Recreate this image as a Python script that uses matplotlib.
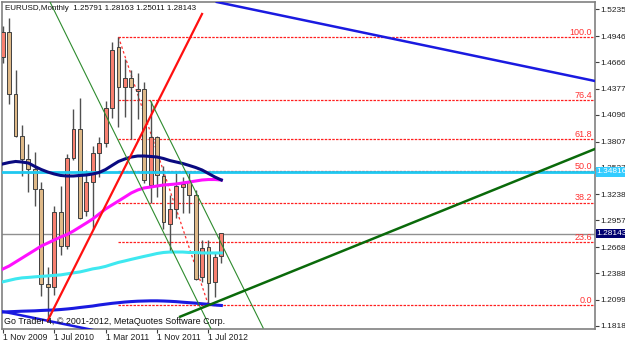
import matplotlib
matplotlib.use('Agg')
import matplotlib.pyplot as plt
import matplotlib.transforms as mtransforms
import numpy as np

# monthly bars, index 0 = Nov 2009 ... 34 = Sep 2012
opens = [1.4719, 1.4995, 1.4320, 1.3867, 1.3624, 1.3510, 1.3297, 1.2270, 1.2236, 1.3048,
         1.2686, 1.3630, 1.3945, 1.3060, 1.3375, 1.3685, 1.3793, 1.4171, 1.4833, 1.4401,
         1.4492, 1.4355, 1.4376, 1.3340, 1.3861, 1.3430, 1.2926, 1.3081, 1.3322, 1.3376,
         1.3232, 1.2350, 1.2667, 1.2295, 1.25791]
highs = [1.5062, 1.5145, 1.4579, 1.3987, 1.3779, 1.3692, 1.3373, 1.2458, 1.3117, 1.3334,
         1.3678, 1.4158, 1.4283, 1.3500, 1.3760, 1.3860, 1.4247, 1.4887, 1.4939, 1.4698,
         1.4578, 1.4549, 1.4450, 1.4247, 1.3870, 1.3550, 1.3230, 1.3486, 1.3430, 1.3480,
         1.3286, 1.2746, 1.2746, 1.2620, 1.28163]
lows = [1.4654, 1.4218, 1.3857, 1.3434, 1.3266, 1.3114, 1.2143, 1.1876, 1.2151, 1.2588,
        1.2644, 1.3605, 1.2968, 1.3010, 1.2870, 1.3430, 1.3745, 1.4060, 1.3970, 1.4077,
        1.3837, 1.4050, 1.3360, 1.3146, 1.3210, 1.2860, 1.2620, 1.2980, 1.3037, 1.3037,
        1.2314, 1.2294, 1.2042, 1.2134, 1.25011]
closes = [1.4995, 1.4320, 1.3867, 1.3624, 1.3510, 1.3297, 1.2270, 1.2236, 1.3048, 1.2686,
          1.3630, 1.3945, 1.2986, 1.3375, 1.3685, 1.3793, 1.4171, 1.4797, 1.4401, 1.4492,
          1.4401, 1.4376, 1.3394, 1.3861, 1.3445, 1.2944, 1.3078, 1.3322, 1.3345, 1.3232,
          1.2332, 1.2656, 1.2285, 1.2565, 1.28143]

# moving averages
ma_navy = [1.3567, 1.3583, 1.3594, 1.3588, 1.3577, 1.3540, 1.3507, 1.3480, 1.3459, 1.3443,
           1.3437, 1.3437, 1.3443, 1.3448, 1.3459, 1.3475, 1.3507, 1.3551, 1.3594, 1.3621,
           1.3642, 1.3653, 1.3653, 1.3648, 1.3642, 1.3626, 1.3604, 1.3588, 1.3572, 1.3551,
           1.3529, 1.3502, 1.3464, 1.3426, 1.3394]
ma_magenta = [1.2432, 1.2465, 1.2508, 1.2551, 1.2594, 1.2637, 1.2681, 1.2713, 1.2746, 1.2778,
              1.2805, 1.2843, 1.2886, 1.2929, 1.2973, 1.3027, 1.3081, 1.3124, 1.3167, 1.3210,
              1.3254, 1.3286, 1.3308, 1.3318, 1.3329, 1.3340, 1.3345, 1.3351, 1.3362, 1.3372,
              1.3383, 1.3394, 1.3399, 1.3399, 1.3394]
ma_cyan = [1.2294, 1.2310, 1.2326, 1.2337, 1.2342, 1.2348, 1.2353, 1.2358, 1.2364, 1.2369,
           1.2380, 1.2391, 1.2401, 1.2417, 1.2434, 1.2445, 1.2461, 1.2483, 1.2504, 1.2520,
           1.2537, 1.2553, 1.2569, 1.2584, 1.2600, 1.2611, 1.2616, 1.2616, 1.2616, 1.2611,
           1.2611, 1.2606, 1.2606, 1.2606, 1.2606]
ma_blue = [1.1968, 1.1971, 1.1974, 1.1977, 1.1979, 1.1981, 1.1985, 1.1988, 1.1990, 1.1995,
           1.2001, 1.2008, 1.2017, 1.2025, 1.2033, 1.2044, 1.2053, 1.2062, 1.2069, 1.2076,
           1.2081, 1.2085, 1.2087, 1.2089, 1.2089, 1.2087, 1.2084, 1.2080, 1.2074, 1.2069,
           1.2064, 1.2057, 1.2051, 1.2044, 1.2039]

# trend lines as (bar index, price) anchor pairs
blue_upper = [(33.3, 1.5316), (92.1, 1.4463)]
blue_lower = [(-0.4, 1.1979), (40.0, 1.1405)]
red_line = [(7.0, 1.1876), (31.0, 1.5187)]
green_1 = [(7.36, 1.5316), (32.4, 1.1785)]
green_2 = [(23.0, 1.4247), (40.5, 1.1797)]
green_thick = [(27.6, 1.1918), (92.1, 1.3729)]
fib_base = [(18, 1.4939), (32, 1.2042)]
fib_levels = [0.0, 23.6, 38.2, 50.0, 61.8, 76.4, 100.0]

ytick_vals = [1.52355, 1.49465, 1.46660, 1.43770, 1.40965, 1.38075, 1.35270,
              1.32380, 1.29575, 1.26685, 1.23880, 1.20990, 1.18185]
xtick_idx = [0, 8, 16, 24, 32]
xtick_labels = ['1 Nov 2009', '1 Jul 2010', '1 Mar 2011', '1 Nov 2011', '1 Jul 2012']
cyan_level = 1.34816
last_price = 1.28143

W, H = 625, 343
fig = plt.figure(figsize=(W / 100, H / 100), dpi=100)
fig.patch.set_facecolor('white')
ax = fig.add_axes([2 / W, 14 / H, 593 / W, 327 / H])
ax.set_facecolor('white')
FONT = ['Liberation Sans Narrow', 'Liberation Sans', 'DejaVu Sans']

ax.set_xlim(-0.109, 92.11)
ax.set_ylim(1.17848, 1.53161)

idx = np.arange(len(opens))
o = np.array(opens); c = np.array(closes)
bull = c >= o

# fibo levels
hi, lo = fib_base[0][1], fib_base[1][1]
tr = mtransforms.blended_transform_factory(ax.transAxes, ax.transData)
for lv in fib_levels:
    p = lo + (hi - lo) * lv / 100.0
    ax.plot([fib_base[0][0], 92.11], [p, p], color='#ff2020', lw=0.9,
            ls=(0, (2, 1)), zorder=2)
    ax.text(0.995, p + 0.0003, '%.1f' % lv, transform=tr,
            ha='right', va='bottom', fontsize=6.5, color='#ff3030', family=FONT, zorder=6)
ax.plot([fib_base[0][0], fib_base[1][0]], [hi, lo], color='#ff3030', lw=0.9,
        ls=(0, (2, 2)), zorder=2)

# price lines
ax.axhline(last_price, color='#909090', lw=1, zorder=1)
ax.axhline(cyan_level, color='#1ec8f0', lw=2, zorder=4)

# candles
ax.vlines(idx, lows, highs, color='#505050', lw=1, zorder=3)
ax.bar(idx, np.abs(c - o) + 0.0004, bottom=np.minimum(o, c) - 0.0002, width=0.6,
       color=np.where(bull, '#f88070', '#deb887'), edgecolor='#404040', lw=0.7, zorder=3)

# moving averages
ax.plot(idx, ma_cyan, color='#3ee8f0', lw=2.2, zorder=4)
ax.plot(idx, ma_magenta, color='#ff10ff', lw=2.2, zorder=4)
ax.plot(idx, ma_navy, color='#0a0a80', lw=2.2, zorder=4)
ax.plot(idx, ma_blue, color='#1a1ae0', lw=2.2, zorder=4)

# trend lines
def seg(pts, **kw):
    (x1, y1), (x2, y2) = pts
    ax.plot([x1, x2], [y1, y2], zorder=5, **kw)

seg(blue_upper, color='#1a1ae0', lw=1.8)
seg(blue_lower, color='#1a1ae0', lw=1.8)
seg(red_line, color='#ff1010', lw=1.6)
seg(green_1, color='#2e8b2e', lw=0.8)
seg(green_2, color='#2e8b2e', lw=0.8)
seg(green_thick, color='#0a6a0a', lw=1.8)

# axes styling
for s in ax.spines.values():
    s.set_color('#808080')
    s.set_linewidth(1.2)
ax.yaxis.tick_right()
ax.set_yticks(ytick_vals)
ax.set_yticklabels(['%.5f' % v for v in ytick_vals])
ax.tick_params(axis='y', length=3, width=0.8, color='#404040', pad=1,
               labelsize=6.0, labelcolor='#202020')
ax.set_xticks(xtick_idx)
ax.set_xticklabels(xtick_labels)
ax.tick_params(axis='x', length=3, width=0.8, color='#404040', pad=0,
               labelsize=6.2, labelcolor='#202020')
for lbl in ax.get_xticklabels() + ax.get_yticklabels():
    lbl.set_family(FONT)
for lbl in ax.get_xticklabels():
    lbl.set_ha('left')

# price tags on the axis
ax.text(1.003, cyan_level, '%.5f' % cyan_level, transform=tr, ha='left', va='center',
        fontsize=6.0, color='white', family=FONT, clip_on=False, zorder=10,
        bbox=dict(boxstyle='square,pad=0.15', fc='#33ccff', ec='none'))
ax.text(1.003, last_price, '%.5f' % last_price, transform=tr, ha='left', va='center',
        fontsize=6.0, color='white', family=FONT, clip_on=False, zorder=10,
        bbox=dict(boxstyle='square,pad=0.15', fc='#000070', ec='none'))

fig.text(5 / W, 1 - 8.5 / H, 'EURUSD,Monthly  1.25791 1.28163 1.25011 1.28143',
         ha='left', va='center', fontsize=5.8, color='#101010', family=FONT)
fig.text(4 / W, 1 - 321 / H, 'Go Trader 4, \u00a9 2001-2012, MetaQuotes Software Corp.',
         ha='left', va='center', fontsize=6.4, color='#101010', family=FONT, zorder=10)

fig.savefig('out.png', dpi=100, facecolor='white')
